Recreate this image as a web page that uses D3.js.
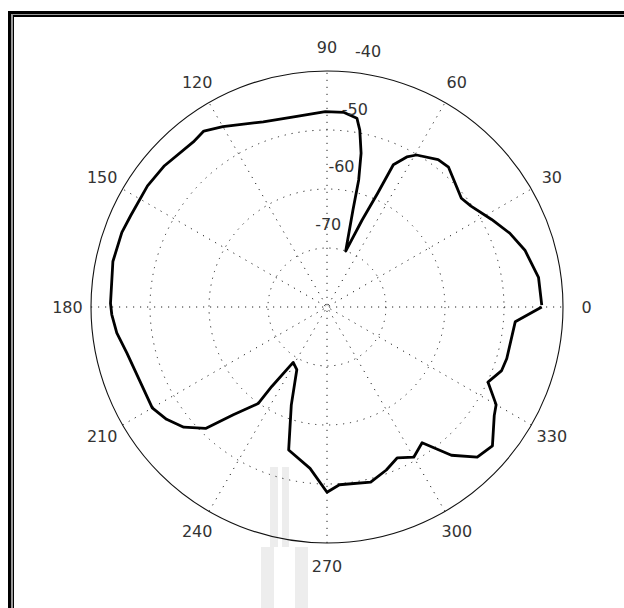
<!DOCTYPE html>
<html>
<head>
<meta charset="utf-8">
<script src="https://cdn.jsdelivr.net/npm/d3@7"></script>
<style>
  html, body { margin: 0; padding: 0; background: #fff; }
  svg { display: block; }
  text { font-family: "DejaVu Sans", sans-serif; }
</style>
</head>
<body>
<svg id="chart" width="624" height="608"></svg>
<script>
// ---- data (angle in degrees, gain in dB) ----
const thetaDeg = [0.5, 8, 16, 22, 28, 35, 39, 44, 49, 53, 59.5, 62, 65, 66, 68, 71.5,
  75, 76, 77.5, 79.5, 81, 85, 90.5, 99, 109, 120, 125, 129, 139, 146, 155, 160, 168,
  179, 182, 187, 193, 202, 210, 215, 220, 225, 229, 234.5, 235.2, 238.6, 244.3, 250,
  255, 264, 270, 274, 284, 290, 295, 300, 305, 310, 315, 320, 327, 330, 335, 340,
  344, 355.5, 360];
const gainDb = [-43.6, -43.8, -45.1, -46.6, -48.4, -50.2, -50.7, -49.8, -48.6, -48.7,
  -50.1, -51.2, -53.4, -58.9, -64.1, -70, -63, -57.8, -53.3, -49.5, -47.6, -46.9,
  -46.9, -47.3, -46.8, -44.7, -43.6, -44, -43.5, -43.3, -43.3, -43, -42.9, -43.3,
  -43.5, -44.1, -45.2, -45.9, -45.8, -46.8, -48.3, -50.9, -55.8, -59.9, -63.6, -69,
  -68.2, -62.3, -54.9, -52.5, -48.6, -49.8, -49.4, -50.6, -51.8, -50.6, -51.9, -47.2,
  -44, -43.4, -46.2, -46.9, -49.9, -48.5, -48.3, -48, -43.6];
const ringValues = [-70, -60, -50, -40];
const ringLabels = ["-70", "-60", "-50", "-40"];
const spokeAngles = [0, 30, 60, 90, 120, 150];
const angleTicks = [0, 30, 60, 90, 120, 150, 180, 210, 240, 270, 300, 330];
const rDomain = [-80, -40];

// ---- layout ----
const svg = d3.select("#chart");
const cx = 327, cy = 307, R = 236;
const r = d3.scaleLinear().domain(rDomain).range([0, R]);
const rad = d => d * Math.PI / 180;

// frame (double border)
svg.append("rect").attr("x", 8).attr("y", 11).attr("width", 616).attr("height", 597).attr("fill", "#000");
svg.append("rect").attr("x", 11).attr("y", 14).attr("width", 613).attr("height", 594).attr("fill", "#999");
svg.append("rect").attr("x", 13).attr("y", 15).attr("width", 611).attr("height", 593).attr("fill", "#000");
svg.append("rect").attr("x", 14).attr("y", 17).attr("width", 610).attr("height", 591).attr("fill", "#fff");

// faint watermark
const wm = svg.append("g").attr("fill", "#ededed");
wm.append("rect").attr("x", 270).attr("y", 467).attr("width", 8).attr("height", 80);
wm.append("rect").attr("x", 282).attr("y", 467).attr("width", 7).attr("height", 80);
wm.append("rect").attr("x", 261).attr("y", 547).attr("width", 13).attr("height", 61);
wm.append("rect").attr("x", 295).attr("y", 547).attr("width", 13).attr("height", 61);

const g = svg.append("g").attr("transform", `translate(${cx},${cy})`);

// dotted spokes
g.selectAll("line.spoke").data(spokeAngles).enter().append("line")
  .attr("class", "spoke")
  .attr("x1", d => -R * Math.cos(rad(d))).attr("y1", d => R * Math.sin(rad(d)))
  .attr("x2", d => R * Math.cos(rad(d))).attr("y2", d => -R * Math.sin(rad(d)))
  .attr("stroke", "#222").attr("stroke-width", 1).attr("stroke-dasharray", "1.2 5.8");

// dotted inner rings
g.selectAll("circle.ring").data(ringValues.slice(0, -1)).enter().append("circle")
  .attr("class", "ring").attr("r", d => r(d))
  .attr("fill", "none").attr("stroke", "#222").attr("stroke-width", 1)
  .attr("stroke-dasharray", "1.2 5.8");

// outer solid ring
g.append("circle").attr("r", r(rDomain[1]))
  .attr("fill", "none").attr("stroke", "#111").attr("stroke-width", 1.1);

// angle labels
g.selectAll("text.al").data(angleTicks).enter().append("text")
  .attr("class", "al")
  .attr("x", d => 1.1 * R * Math.cos(rad(d)))
  .attr("y", d => -1.1 * R * Math.sin(rad(d)))
  .attr("text-anchor", "middle").attr("dominant-baseline", "central")
  .attr("font-size", 16).attr("fill", "#333")
  .text(d => d);

// pattern
const pts = thetaDeg.map((t, i) => ({ t, v: gainDb[i] }));
const line = d3.lineRadial()
  .angle(d => rad(90 - d.t))
  .radius(d => r(d.v));
g.append("path").datum(pts)
  .attr("d", line)
  .attr("fill", "none").attr("stroke", "#000").attr("stroke-width", 2.8)
  .attr("stroke-linejoin", "round");

// ring labels (drawn on top)
g.selectAll("text.rl").data(ringValues).enter().append("text")
  .attr("class", "rl")
  .attr("x", d => r(d) * Math.cos(rad(77)) + 1)
  .attr("y", d => -(r(d) * Math.sin(rad(77)) + 20))
  .attr("text-anchor", "end")
  .attr("font-size", 16).attr("fill", "#333")
  .text((d, i) => ringLabels[i]);
</script>
</body>
</html>
